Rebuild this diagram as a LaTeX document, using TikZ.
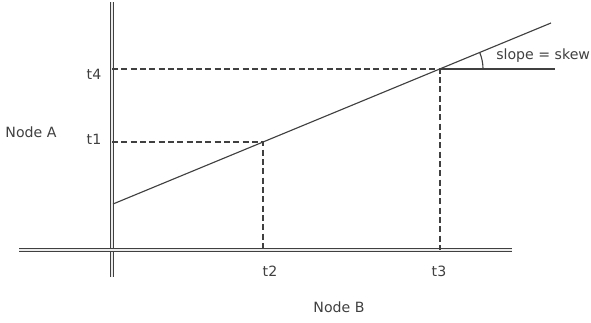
\documentclass[tikz,border=0pt]{standalone}
\usepackage{fontspec}
\setmainfont{DejaVu Sans}
\usepackage{xcolor}
\usetikzlibrary{positioning}
\definecolor{inkgray}{HTML}{404040}

\begin{document}
\begin{tikzpicture}[
    x=0.75pt, y=-0.75pt,
    every node/.style={font=\fontsize{10.6}{12}\selectfont, text=inkgray, inner sep=0pt},
    axisline/.style={draw=inkgray, double=gray!15, line width=0.8pt, double distance=1pt},
    guide/.style={draw=inkgray, dash pattern=on 4.5pt off 2.5pt, line width=0.85pt},
    plainline/.style={draw=inkgray, line width=0.85pt}
]
\useasboundingbox (0,0) rectangle (591,322);
% axes
\coordinate (ybot) at (112,277);
\coordinate (ytop) at (112,2);
\coordinate (xleft) at (19,250);
\coordinate (xright) at (512,250);
\draw[axisline] (ybot) -- (ytop);
\draw[axisline] (xleft) -- (xright);
% clock line and its readings
\coordinate (lstart) at (113,204);
\coordinate (lend) at (551,23);
\coordinate (p1) at (263,142);
\coordinate (p3) at (440,69);
\coordinate (a1) at (112,142);
\coordinate (a4) at (112,69);
\coordinate (b2) at (263,250);
\coordinate (b3) at (440,250);
\coordinate (hend) at (555,69);
\draw[plainline] (lstart) -- (lend);
\draw[plainline] (p3) -- (hend);
\draw[guide] (a4) -- (p3) -- (b3);
\draw[guide] (a1) -- (p1) -- (b2);
% slope angle
\draw[plainline] (483,69) arc[start angle=0, end angle=-22.4, radius=43];
% labels
\node (t4) at (94,74) {t4};
\node (t1) at (94,139) {t1};
\node (t2) at (270,271) {t2};
\node (t3) at (439,271) {t3};
\node (nodea) at (31,132) {Node A};
\node (nodeb) at (339,307) {Node B};
\node[anchor=west] (skew) at (496,56) {slope = skew};
\end{tikzpicture}
\end{document}
